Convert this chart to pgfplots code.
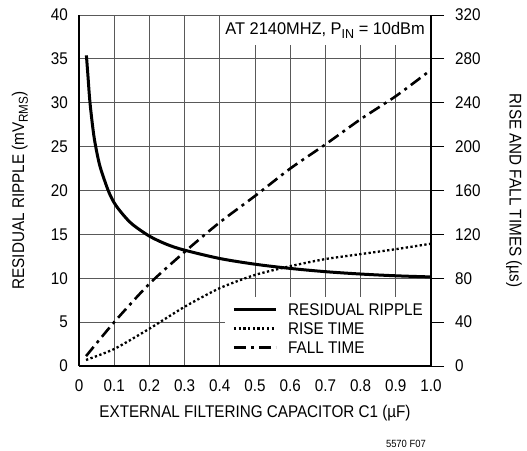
\documentclass[border=0pt]{standalone}
\usepackage{fontspec}
\setmainfont{Liberation Sans}[FakeStretch=0.9]
\usepackage{graphicx}
\usepackage{pgfplots}
\pgfplotsset{compat=1.18}

\newcommand{\fnt}{\fontsize{17}{20}\selectfont}
\newcommand{\sub}[1]{\raisebox{-0.22em}{\fontsize{13}{13}\selectfont #1}}

\begin{document}
\begin{tikzpicture}
% left axis: residual ripple
\begin{axis}[name=main, at={(0,0)}, anchor=south west,
  width=352bp, height=351bp, scale only axis,
  xmin=0, xmax=1, ymin=0, ymax=40,
  xtick={0,0.1,0.2,0.3,0.4,0.5,0.6,0.7,0.8,0.9,1},
  xticklabels={0,0.1,0.2,0.3,0.4,0.5,0.6,0.7,0.8,0.9,1.0},
  ytick={0,5,...,40},
  axis x line*=bottom, axis y line*=left,
  axis line style={-, line width=1.6bp},
  grid=major, major grid style={black!65, line width=0.9bp},
  major tick length=0pt,
  ticklabel style={font=\fnt},
  /pgf/number format/assume math mode=true,
  xticklabel style={inner sep=0pt, yshift=-13bp, anchor=north},
  yticklabel style={inner sep=0pt, xshift=-11bp, anchor=east},
]
\addplot[black, line width=3bp, smooth, tension=0.5] coordinates {
  (0.021,35.4) (0.025,33.3) (0.031,30.1) (0.04,26.9) (0.047,25.1)
  (0.06,22.7) (0.083,20) (0.1,18.6) (0.12,17.5) (0.15,16.2) (0.2,14.8)
  (0.25,13.85) (0.3,13.2) (0.4,12.25) (0.5,11.6) (0.6,11.12) (0.7,10.75)
  (0.8,10.48) (0.9,10.28) (1.0,10.15)
};
\end{axis}

% right axis: rise and fall times
\begin{axis}[at={(0,0)}, anchor=south west,
  width=352bp, height=351bp, scale only axis,
  xmin=0, xmax=1, ymin=0, ymax=320,
  ytick={0,40,...,320},
  axis x line=none, axis y line*=right,
  axis line style={-, line width=1.6bp},
  tick align=outside, major tick length=13bp,
  tick style={black, line width=0.9bp},
  /pgf/number format/assume math mode=true,
  yticklabel style={font=\fnt, inner sep=0pt, xshift=11bp, anchor=west},
  legend image code/.code={\draw[#1] (0bp,0bp) -- (42bp,0bp);},
  legend cell align=left,
  legend style={at={(0.4355,0.1798)}, anchor=north west,
    fill=none, draw=none, inner sep=0pt, row sep=7.1bp,
    nodes={font=\fnt, inner sep=0pt, text height=12.2bp, text depth=0pt},
    /tikz/every odd column/.append style={column sep=10.7bp}},
]
% white ground under the legend
\fill[white] (rel axis cs:0.4148,0.1966) rectangle ([shift={(-0.9bp,0.9bp)}]rel axis cs:1,0);
\addlegendimage{black, line width=3bp}
\addlegendentry{RESIDUAL RIPPLE}
\addplot[black, line width=2.3bp, dash pattern=on 2.3bp off 2.4bp, smooth, tension=0.4] coordinates {
  (0.02,5.5) (0.1,15.5) (0.2,34) (0.3,54) (0.4,71) (0.5,83) (0.6,91)
  (0.7,97.5) (0.8,102) (0.9,106.5) (1.0,111.5)
};
\addlegendentry{RISE TIME}
\addplot[black, line width=2.6bp, dash pattern=on 12bp off 5bp on 3bp off 5bp, smooth, tension=0.4] coordinates {
  (0.02,9) (0.1,40) (0.2,75) (0.3,104) (0.4,131) (0.5,155) (0.6,180)
  (0.7,202) (0.8,225) (0.9,246) (1.0,270)
};
\addlegendentry{FALL TIME}
\end{axis}

% condition box
\fill[white] ([xshift=143bp, yshift=-0.6bp]main.north west) rectangle ([xshift=-0.9bp, yshift=-30bp]main.north east);
\node[anchor=base east, font=\fnt, inner sep=0pt] at ([xshift=-6bp, yshift=-20bp]main.north east) {\scalebox{1.075}[1]{AT 2140MHZ, P\sub{IN} = 10dBm}};

% labels
\node[rotate=90, font=\fnt, anchor=center] at ([xshift=-59bp]main.west) {RESIDUAL RIPPLE (mV\sub{RMS})};
\node[rotate=-90, font=\fnt, anchor=center] at ([xshift=83bp]main.east) {RISE AND FALL TIMES (µs)};
\node[font=\fnt, anchor=center] at ([yshift=-47bp]main.south) {EXTERNAL FILTERING CAPACITOR C1 (µF)};
\node[font=\fontsize{10.5}{12}\selectfont, anchor=east, inner sep=0pt] at ([xshift=-5bp, yshift=-78bp]main.south east) {5570 F07};

% page extent
\path ([shift={(-79bp,-85bp)}]main.south west) rectangle ([shift={(96bp,15bp)}]main.north east);
\end{tikzpicture}
\end{document}
